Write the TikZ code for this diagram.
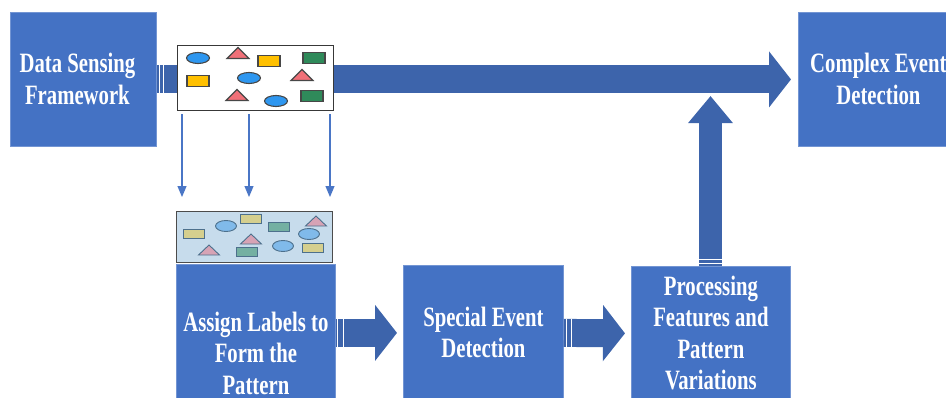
\documentclass[tikz,border=0pt]{standalone}
\usepackage{fontspec}
\setmainfont{Liberation Serif}
\usepackage{graphicx}
\usetikzlibrary{arrows.meta,shapes.geometric,calc}
\definecolor{boxblue}{HTML}{4472C4}
\definecolor{arrblue}{HTML}{3D64AB}
\definecolor{thinblue}{HTML}{4A76C6}
\definecolor{sBlue}{HTML}{2E97F0}
\definecolor{sYel}{HTML}{FFC000}
\definecolor{sGrn}{HTML}{2F8A5A}
\definecolor{sRed}{HTML}{F07078}
\definecolor{fBlue}{HTML}{80BAEA}
\definecolor{fYel}{HTML}{D5CF8E}
\definecolor{fGrn}{HTML}{74B0A2}
\definecolor{fRed}{HTML}{D7A3B5}
\definecolor{labbg}{HTML}{C7DCEC}
\newcommand\boxtext[1]{\raisebox{-3pt}[\height][\depth]{\scalebox{0.74}[1]{\begin{tabular}{@{}c@{}}#1\end{tabular}}}}
\newcommand\shE[3]{\filldraw[#3] (#1,#2) ellipse [x radius=11.5, y radius=5.5];}
\newcommand\shR[3]{\filldraw[#3] (#1-11,#2-5.5) rectangle (#1+11,#2+5.5);}
\newcommand\shT[3]{\filldraw[#3] (#1-11,#2+5.5) -- (#1,#2-5.5) -- (#1+11,#2+5.5) -- cycle;}
\newcommand\fE[3]{\filldraw[#3] (#1,#2) ellipse [x radius=10.5, y radius=5.5];}
\newcommand\fR[3]{\filldraw[#3] (#1-10.5,#2-4.8) rectangle (#1+10.5,#2+4.8);}
\newcommand\fT[3]{\filldraw[#3] (#1-10.5,#2+5) -- (#1,#2-5) -- (#1+10.5,#2+5) -- cycle;}
\tikzset{
  blk/.style={draw=boxblue!75!white, line width=0.8pt, fill=boxblue, text=white,
    font=\fontsize{28}{31.5}\selectfont\bfseries, inner sep=0pt, anchor=north west},
  bigarr/.style={draw=arrblue, line width=28pt, -{Triangle[length=22pt,width=55pt]}},
  uparr/.style={draw=arrblue, line width=23pt, -{Triangle[length=27pt,width=43pt]}},
  thinarr/.style={draw=thinblue, line width=1.2pt, -{Triangle[length=11pt,width=9pt]}},
  stripe/.style={draw=white, line width=0.9pt},
  imgbox/.style={draw=black!78, line width=1.4pt, fill=white, inner sep=0pt, anchor=north west},
  labbox/.style={draw=black!70, line width=1.2pt, fill=labbg, inner sep=0pt, anchor=north west},
  sh/.style={draw=black!72, line width=1.1pt, fill=#1},
  fs/.style={draw=black!40!fBlue, line width=0.9pt, fill=#1}
}
\begin{document}
\begin{tikzpicture}[x=1pt,y=-1pt]
\useasboundingbox (0,0) rectangle (946,397);
% boxes
\node[blk, minimum width=146pt, minimum height=134pt] (data) at (10,12) {\boxtext{Data Sensing\\Framework}\hspace*{12pt}};
\node[blk, minimum width=160pt, minimum height=134pt] (complex) at (798,12) {\boxtext{Complex Event\\Detection}};
\node[blk, minimum width=159pt, minimum height=178pt] (assign) at (176,264) {\boxtext{Assign Labels to\\Form the\\Pattern}};
\node[blk, minimum width=160pt, minimum height=135pt] (special) at (403,265) {\boxtext{Special Event\\Detection}};
\node[blk, minimum width=159pt, minimum height=134pt] (proc) at (631,266) {\boxtext{Processing\\Features and\\Pattern\\Variations}};
% block arrows
\draw[bigarr, shorten >=7pt] (data.east) -- (complex.west);
\draw[stripe] ($(data.east)+(3,-14)$) -- ++(0,28);
\draw[stripe] ($(data.east)+(7,-14)$) -- ++(0,28);
\coordinate (vtip) at (710.5,96);
\draw[uparr] (proc.north -| vtip) -- (vtip);
\draw[stripe] ($(proc.north)+(-11.5,-3)$) -- ++(23,0);
\draw[stripe] ($(proc.north)+(-11.5,-7)$) -- ++(23,0);
\draw[bigarr, shorten >=6pt] (assign.east |- special.west) -- (special.west);
\draw[stripe] ($(assign.east |- special.west)+(2,-14)$) -- ++(0,28);
\draw[stripe] ($(assign.east |- special.west)+(8,-14)$) -- ++(0,28);
\draw[bigarr, shorten >=6pt] (special.east) -- (proc.west);
\draw[stripe] ($(special.east)+(3,-14)$) -- ++(0,28);
\draw[stripe] ($(special.east)+(8,-14)$) -- ++(0,28);
% raw data picture
\node[imgbox, minimum width=156pt, minimum height=65pt] (img) at (177,45) {};
\shE{198}{58}{sh=sBlue}
\shT{238}{53}{sh=sRed}
\shR{269}{61}{sh=sYel}
\shR{314}{58}{sh=sGrn}
\shR{198}{81}{sh=sYel}
\shE{249}{78}{sh=sBlue}
\shT{302}{75}{sh=sRed}
\shT{237}{95}{sh=sRed}
\shE{276}{101}{sh=sBlue}
\shR{312}{96}{sh=sGrn}
% labelled picture
\node[labbox, minimum width=156pt, minimum height=51pt] (lab) at (176,211) {};
\fR{194}{234}{fs=fYel}
\fE{226}{226}{fs=fBlue}
\fR{251}{219}{fs=fYel}
\fR{279}{227}{fs=fGrn}
\fT{316}{221}{fs=fRed}
\fE{309}{234}{fs=fBlue}
\fT{209}{250}{fs=fRed}
\fT{251}{239}{fs=fRed}
\fR{247}{252}{fs=fGrn}
\fE{283}{246}{fs=fBlue}
\fR{313}{248}{fs=fYel}
% thin arrows
\foreach \xx in {182,249,330}{
  \draw[thinarr, shorten <=3pt, shorten >=14pt] (img.south -| \xx,0) -- (lab.north -| \xx,0);
}
\end{tikzpicture}
\end{document}
